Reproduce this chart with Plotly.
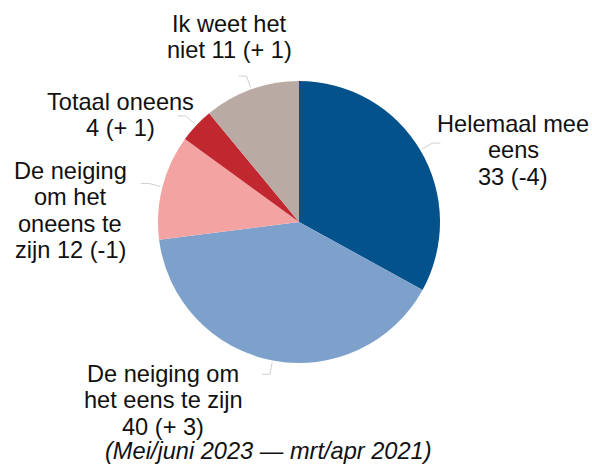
import math
import plotly.graph_objects as go

# Data
categories = ["Helemaal mee eens", "De neiging om het eens te zijn",
              "De neiging om het oneens te zijn", "Totaal oneens", "Ik weet het niet"]
values = [33, 40, 12, 4, 11]
changes = ["(-4)", "(+ 3)", "(-1)", "(+ 1)", "(+ 1)"]
label_lines = [
    ["Helemaal mee", "eens", "33 (-4)"],
    ["De neiging om", "het eens te zijn", "40 (+ 3)"],
    ["De neiging", "om het", "oneens te", "zijn 12 (-1)"],
    ["Totaal oneens", "4 (+ 1)"],
    ["Ik weet het", "niet 11 (+ 1)"],
]
colors = ["#04528b", "#7ea1cc", "#f4a3a3", "#c1272f", "#b9aaa3"]
subtitle = "(Mei/juni 2023 — mrt/apr 2021)"

W, H = 592, 466
CX, CY, R = 299, 222, 141  # pixel layout of the pie

# label placement (pixel centre x, first baseline y)
label_pos = [(513, 132), (163, 382), (70, 179), (120, 110), (230, 32)]
LINE_H = 26.5
FS = 23.6

def px(x):
    return x / W

def py(y):
    return 1 - y / H

fig = go.Figure(go.Pie(
    labels=categories, values=values, sort=False, direction="clockwise",
    rotation=0, marker=dict(colors=colors, line=dict(width=0)),
    textinfo="none", hoverinfo="label+value", showlegend=False,
    domain=dict(x=[px(CX - R), px(CX + R)], y=[py(CY + R), py(CY - R)]),
))

annotations = []
for lines, (lx, ly) in zip(label_lines, label_pos):
    for i, t in enumerate(lines):
        annotations.append(dict(
            x=px(lx), y=py(ly + i * LINE_H - 0.35 * FS), xref="paper", yref="paper",
            text=t, showarrow=False, xanchor="center", yanchor="middle",
            font=dict(family="Liberation Sans, Arial", size=FS, color="#111111"),
        ))
annotations.append(dict(
    x=px(268), y=py(459 - 0.35 * FS), xref="paper", yref="paper",
    text="<i>" + subtitle + "</i>", showarrow=False, xanchor="center", yanchor="middle",
    font=dict(family="Liberation Sans, Arial", size=FS, color="#111111"),
))

# leader lines computed from slice mid-angles
shapes = []
total = sum(values)
cum = 0
for v in values:
    mid = (cum + v / 2) / total * 2 * math.pi
    cum += v
    sx, sy = math.sin(mid), -math.cos(mid)
    x0, y0 = CX + (R + 2) * sx, CY + (R + 2) * sy
    x1, y1 = CX + (R + 14) * sx, CY + (R + 14) * sy
    x2 = x1 + (8 if sx > 0 else -8)
    path = f"M {px(x0)} {py(y0)} L {px(x1)} {py(y1)} L {px(x2)} {py(y1)}"
    shapes.append(dict(type="path", xref="paper", yref="paper", path=path,
                       line=dict(color="#d0d0d0", width=1)))

fig.update_layout(
    width=W, height=H, margin=dict(l=0, r=0, t=0, b=0),
    paper_bgcolor="white", plot_bgcolor="white",
    annotations=annotations, shapes=shapes,
)
fig.write_html("out.html", config={"displayModeBar": False},
               post_script="document.body.style.margin='0';document.body.style.overflow='hidden';")
